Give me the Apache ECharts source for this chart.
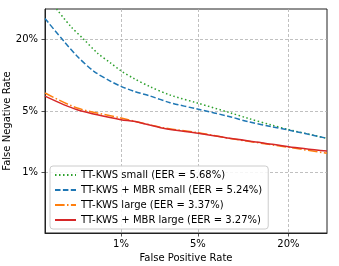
<!DOCTYPE html>
<html>
<head>
<meta charset="utf-8">
<script src="https://cdn.jsdelivr.net/npm/echarts@6/dist/echarts.min.js"></script>
<style>
html,body{margin:0;padding:0;background:#fff;}
#chart{width:339px;height:266px;}
</style>
</head>
<body>
<div id="chart"></div>
<script>
// ---- data (percent) ----
const seriesNames = [
  'TT-KWS small (EER = 5.68%)',
  'TT-KWS + MBR small (EER = 5.24%)',
  'TT-KWS large (EER = 3.37%)',
  'TT-KWS + MBR large (EER = 3.27%)'
];
const xTitle = 'False Positive Rate';
const yTitle = 'False Negative Rate';
const greenFPR = [0.188, 0.278, 0.398, 0.560, 0.781, 1.0, 1.35, 1.93, 2.93, 5.04, 8.69, 11.5, 16.0, 20.0, 30.85];
const greenFNR = [30.85, 24.4, 20.0, 16.1, 13.5, 11.7, 10.1, 8.58, 7.21, 6.03, 4.87, 4.27, 3.64, 3.25, 2.60];
const blueFPR  = [0.135, 0.231, 0.332, 0.514, 0.781, 1.0, 1.35, 1.93, 2.93, 5.04, 8.69, 11.5, 16.0, 20.0, 30.85];
const blueFNR  = [27.2, 19.5, 15.2, 11.6, 9.56, 8.64, 7.80, 7.07, 6.11, 5.27, 4.44, 3.94, 3.49, 3.21, 2.60];
const orangeFPR = [0.135, 0.332, 1.0, 2.55, 5.04, 8.69, 20.0, 30.85];
const orangeFNR = [7.53, 5.43, 4.30, 3.40, 3.00, 2.59, 2.05, 1.74];
const redFPR   = [0.135, 0.332, 1.0, 1.35, 2.55, 5.04, 8.69, 14.0, 20.0, 30.85];
const redFNR   = [7.05, 5.22, 4.13, 3.98, 3.35, 2.96, 2.60, 2.32, 2.08, 1.85];
const tickPercents = [1, 5, 20];
const tickLabels = ['1%', '5%', '20%'];

// inverse normal CDF (Acklam)
function probit(p) {
  const a=[-3.969683028665376e+01,2.209460984245205e+02,-2.759285104469687e+02,1.383577518672690e+02,-3.066479806614716e+01,2.506628277459239e+00];
  const b=[-5.447609879822406e+01,1.615858368580409e+02,-1.556989798598866e+02,6.680131188771972e+01,-1.328068155288572e+01];
  const c=[-7.784894002430293e-03,-3.223964580411365e-01,-2.400758277161838e+00,-2.549732539343734e+00,4.374664141464968e+00,2.938163982698783e+00];
  const d=[7.784695709041462e-03,3.224671290700398e-01,2.445134137142996e+00,3.754408661907416e+00];
  const pl=0.02425, ph=1-pl;
  let q,r;
  if (p<pl){q=Math.sqrt(-2*Math.log(p));return (((((c[0]*q+c[1])*q+c[2])*q+c[3])*q+c[4])*q+c[5])/((((d[0]*q+d[1])*q+d[2])*q+d[3])*q+1);}
  if (p<=ph){q=p-0.5;r=q*q;return (((((a[0]*r+a[1])*r+a[2])*r+a[3])*r+a[4])*r+a[5])*q/(((((b[0]*r+b[1])*r+b[2])*r+b[3])*r+b[4])*r+1);}
  q=Math.sqrt(-2*Math.log(1-p));return -(((((c[0]*q+c[1])*q+c[2])*q+c[3])*q+c[4])*q+c[5])/((((d[0]*q+d[1])*q+d[2])*q+d[3])*q+1);
}
function toPts(xs, ys){ return xs.map((x,i)=>[probit(x/100), probit(ys[i]/100)]); }
const tickVals = tickPercents.map(t=>probit(t/100));
function fmt(v){
  let best=0, bd=1e9;
  tickVals.forEach((t,i)=>{ const dd=Math.abs(t-v); if(dd<bd){bd=dd;best=i;} });
  return tickLabels[best];
}
const FONT = 'DejaVu Sans';
function axis(name, gap, isY){
  return {
    type:'value', min:-3, max:-0.5,
    name:name, nameLocation:'middle', nameGap:gap,
    nameTextStyle:{fontFamily:FONT,fontSize:10,color:'#000'},
    axisLine:{show:true,onZero:false,lineStyle:{color:'#222',width:1}},
    axisTick:{show:true,inside:false,length:3.5,lineStyle:{color:'#222',width:0.8},customValues:tickVals},
    axisLabel:{fontFamily:FONT,fontSize:10,color:'#000',margin:isY?7:6,customValues:tickVals,formatter:fmt},
    splitLine:{show:true,lineStyle:{color:'#b0b0b0',width:0.8,type:[3,2]}}
  };
}
const chart = echarts.init(document.getElementById('chart'), null, {renderer:'canvas'});
chart.setOption({
  animation:false,
  backgroundColor:'#fff',
  grid:{left:45,top:9,right:12,bottom:33,containLabel:false,outerBoundsMode:'none',
        show:true,borderColor:'#222',borderWidth:1,backgroundColor:'transparent'},
  xAxis:axis(xTitle,20,false),
  yAxis:axis('',25,true),
  graphic:[{
    type:'text', x:7.5, y:121, rotation:Math.PI/2,
    style:{text:yTitle, fill:'#000', font:'10px "DejaVu Sans"', align:'center', verticalAlign:'middle'}
  }],
  legend:{
    orient:'vertical', left:50, top:166,
    itemWidth:21, itemHeight:9, itemGap:5,
    padding:[4,6,4,4],
    backgroundColor:'rgba(255,255,255,0.85)', borderColor:'#ccc', borderWidth:1, borderRadius:3,
    itemStyle:{opacity:0},
    textStyle:{fontFamily:FONT,fontSize:10,color:'#000'},
    data:seriesNames
  },
  series:[
    {name:seriesNames[0],type:'line',data:toPts(greenFPR,greenFNR),smooth:0.3,showSymbol:false,symbol:'none',
     lineStyle:{color:'#2ca02c',width:1.5,type:[1.5,2.5]},itemStyle:{color:'#2ca02c'},z:3},
    {name:seriesNames[1],type:'line',data:toPts(blueFPR,blueFNR),smooth:0.3,showSymbol:false,symbol:'none',
     lineStyle:{color:'#1f77b4',width:1.5,type:[5.5,2.4]},itemStyle:{color:'#1f77b4'},z:3},
    {name:seriesNames[2],type:'line',data:toPts(orangeFPR,orangeFNR),smooth:0.3,showSymbol:false,symbol:'none',
     lineStyle:{color:'#ff7f0e',width:1.5,type:[9.6,2.4,1.5,2.4]},itemStyle:{color:'#ff7f0e'},z:3},
    {name:seriesNames[3],type:'line',data:toPts(redFPR,redFNR),smooth:0.3,showSymbol:false,symbol:'none',
     lineStyle:{color:'#d62728',width:1.5},itemStyle:{color:'#d62728'},z:4}
  ]
});
</script>
</body>
</html>
